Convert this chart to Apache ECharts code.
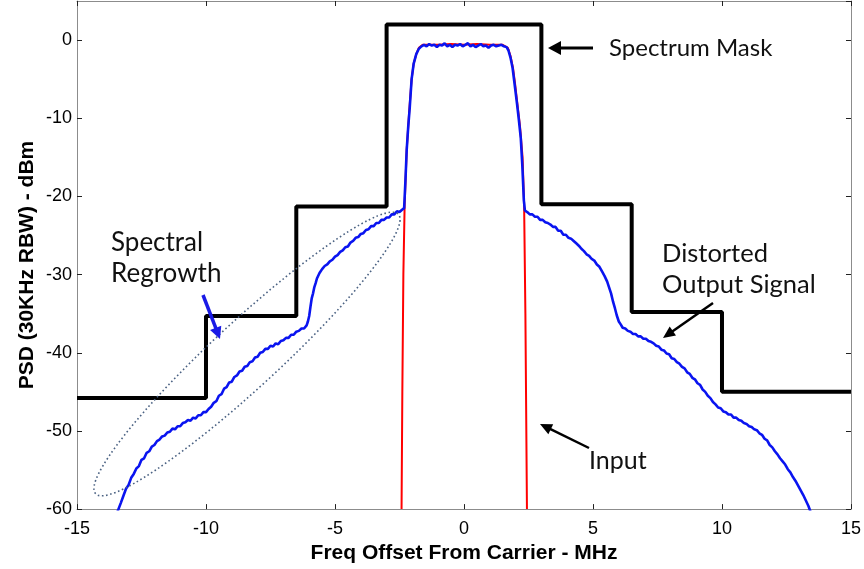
<!DOCTYPE html>
<html>
<head>
<meta charset="utf-8">
<script src="https://cdn.jsdelivr.net/npm/echarts@6/dist/echarts.min.js"></script>
<style>
  html, body { margin: 0; padding: 0; background: #fff; }
  #chart { width: 864px; height: 569px; }
</style>
</head>
<body>
<div id="chart"></div>
<script>
// Axis ranges and ticks (MHz offset, dBm)
const xTicks = [-15, -10, -5, 0, 5, 10, 15];
const yTicks = [-60, -50, -40, -30, -20, -10, 0];

// Spectrum mask limit (stepped)
const maskPoints = [
  [-15, -45.8], [-10, -45.8], [-10, -35.3], [-6.5, -35.3], [-6.5, -21.3],
  [-3, -21.3], [-3, 2], [3, 2], [3, -21], [6.5, -21], [6.5, -34.8],
  [10, -34.8], [10, -45], [15, -45]
];

// Undistorted input PSD
const inputPoints = [
  [-2.42, -60], [-2.39, -45], [-2.35, -30], [-2.3, -21], [-2.22, -14],
  [-2.12, -9], [-2.03, -5], [-1.95, -3], [-1.85, -1.8], [-1.75, -1.0],
  [-1.6, -0.6], [-1.0, -0.6], [-0.5, -0.5], [0, -0.6], [0.5, -0.5],
  [1.0, -0.6], [1.5, -0.6], [1.7, -1.0], [1.8, -2.0], [1.9, -3.6],
  [1.98, -5.6], [2.07, -8.2], [2.17, -11], [2.27, -15], [2.33, -21],
  [2.38, -35], [2.44, -60]
];

// Distorted amplifier output PSD
const outputPoints = [
  [-13.45, -60.5], [-13.3, -59.2], [-13.2, -58.3], [-13.1, -57.4], [-13.0, -56.9],
  [-12.9, -56.0], [-12.8, -55.5], [-12.7, -54.8], [-12.6, -54.5], [-12.5, -53.7],
  [-12.4, -53.5], [-12.3, -52.8], [-12.2, -52.6], [-12.1, -52.0], [-12.0, -51.8],
  [-11.9, -51.3], [-11.8, -51.1], [-11.7, -50.7], [-11.6, -50.6], [-11.5, -50.2],
  [-11.4, -50.1], [-11.3, -49.7], [-11.2, -49.8], [-11.1, -49.4], [-11.0, -49.4],
  [-10.9, -49.0], [-10.8, -48.9], [-10.7, -48.6], [-10.6, -48.7], [-10.5, -48.3],
  [-10.4, -48.4], [-10.3, -48.0], [-10.2, -48.0], [-10.1, -47.6], [-10.0, -47.6],
  [-9.9, -47.2], [-9.8, -46.9], [-9.7, -46.4], [-9.6, -46.2], [-9.5, -45.5],
  [-9.4, -45.3], [-9.3, -44.6], [-9.2, -44.4], [-9.1, -43.8], [-9.0, -43.7],
  [-8.9, -43.1], [-8.8, -42.9], [-8.7, -42.4], [-8.6, -42.3], [-8.5, -41.8],
  [-8.4, -41.7], [-8.3, -41.2], [-8.2, -41.1], [-8.1, -40.6], [-8.0, -40.5],
  [-7.9, -40.0], [-7.8, -39.9], [-7.7, -39.5], [-7.6, -39.5], [-7.5, -39.1],
  [-7.4, -39.2], [-7.3, -38.8], [-7.2, -38.9], [-7.1, -38.5], [-7.0, -38.4],
  [-6.9, -38.1], [-6.8, -38.1], [-6.7, -37.7], [-6.6, -37.7], [-6.5, -37.3],
  [-6.4, -37.2], [-6.3, -36.9], [-6.2, -36.9], [-6.1, -36.5], [-6.05, -36.0],
  [-6.0, -35.3], [-5.95, -34.1], [-5.9, -33.0], [-5.85, -32.4], [-5.8, -31.6],
  [-5.75, -31.1], [-5.7, -30.5], [-5.6, -29.8], [-5.5, -29.3], [-5.4, -28.9],
  [-5.3, -28.7], [-5.2, -28.3], [-5.1, -28.1], [-5.0, -27.7], [-4.9, -27.5],
  [-4.8, -27.1], [-4.7, -26.9], [-4.6, -26.5], [-4.5, -26.4], [-4.4, -25.9],
  [-4.3, -25.7], [-4.2, -25.3], [-4.1, -25.2], [-4.0, -24.8], [-3.9, -24.7],
  [-3.8, -24.3], [-3.7, -24.2], [-3.6, -23.8], [-3.5, -23.8], [-3.4, -23.4],
  [-3.3, -23.4], [-3.2, -23.0], [-3.1, -23.0], [-3.0, -22.7], [-2.9, -22.7],
  [-2.8, -22.3], [-2.7, -22.3], [-2.6, -21.9], [-2.5, -22.0], [-2.4, -21.7],
  [-2.32, -21.5], [-2.27, -18.0], [-2.22, -14.0], [-2.16, -11.0], [-2.1, -8.5],
  [-2.03, -5.0], [-1.95, -3.0], [-1.85, -1.8], [-1.75, -1.1], [-1.65, -0.8],
  [-1.55, -0.6], [-1.45, -0.8], [-1.35, -0.5], [-1.25, -0.7], [-1.15, -0.6],
  [-1.05, -0.9], [-0.95, -0.6], [-0.85, -0.7], [-0.75, -0.4], [-0.65, -0.8],
  [-0.55, -0.6], [-0.45, -0.9], [-0.35, -0.6], [-0.25, -0.7], [-0.15, -0.5],
  [-0.05, -0.8], [0.05, -0.6], [0.15, -0.4], [0.25, -0.8], [0.35, -0.6],
  [0.45, -0.9], [0.55, -0.7], [0.65, -0.5], [0.75, -0.8], [0.85, -0.7],
  [0.95, -1.0], [1.05, -0.7], [1.15, -0.6], [1.25, -0.8], [1.35, -0.7],
  [1.45, -0.6], [1.55, -0.8], [1.65, -0.9], [1.72, -1.3], [1.8, -2.2],
  [1.88, -3.5], [1.96, -5.6], [2.05, -8.0], [2.12, -10.0], [2.2, -12.5],
  [2.26, -16.0], [2.32, -20.5], [2.36, -21.8], [2.45, -22.0], [2.55, -22.3],
  [2.65, -22.3], [2.75, -22.6], [2.85, -22.6], [2.95, -23.0], [3.05, -23.0],
  [3.15, -23.3], [3.25, -23.4], [3.35, -23.6], [3.45, -23.9], [3.55, -23.9],
  [3.65, -24.4], [3.75, -24.4], [3.85, -24.9], [3.95, -24.9], [4.05, -25.3],
  [4.15, -25.4], [4.25, -25.7], [4.35, -26.0], [4.45, -26.3], [4.55, -26.7],
  [4.65, -27.0], [4.75, -27.4], [4.85, -27.6], [4.95, -28.0], [5.05, -28.2],
  [5.15, -28.7], [5.25, -29.0], [5.35, -29.6], [5.45, -30.2], [5.55, -30.9],
  [5.62, -31.6], [5.7, -32.4], [5.78, -33.5], [5.85, -34.3], [5.92, -35.2],
  [6.0, -36.0], [6.08, -36.4], [6.15, -36.8], [6.25, -36.9], [6.35, -37.2],
  [6.45, -37.3], [6.55, -37.6], [6.65, -37.6], [6.75, -37.9], [6.85, -37.9],
  [6.95, -38.2], [7.05, -38.2], [7.15, -38.5], [7.25, -38.6], [7.35, -38.8],
  [7.45, -39.1], [7.55, -39.2], [7.65, -39.6], [7.75, -39.7], [7.85, -40.1],
  [7.95, -40.2], [8.05, -40.7], [8.15, -40.8], [8.25, -41.2], [8.35, -41.4],
  [8.45, -41.8], [8.55, -42.0], [8.65, -42.5], [8.75, -42.7], [8.85, -43.2],
  [8.95, -43.4], [9.05, -43.9], [9.15, -44.1], [9.25, -44.7], [9.35, -45.0],
  [9.45, -45.5], [9.55, -45.8], [9.65, -46.3], [9.75, -46.6], [9.85, -47.0],
  [9.95, -47.1], [10.05, -47.5], [10.15, -47.6], [10.25, -47.9], [10.35, -47.9],
  [10.45, -48.3], [10.55, -48.3], [10.65, -48.6], [10.75, -48.7], [10.85, -49.0],
  [10.95, -49.1], [11.05, -49.4], [11.15, -49.5], [11.25, -49.8], [11.35, -49.9],
  [11.45, -50.3], [11.55, -50.5], [11.65, -51.0], [11.75, -51.2], [11.85, -51.8],
  [11.95, -52.1], [12.05, -52.6], [12.15, -53.0], [12.25, -53.5], [12.35, -53.9],
  [12.45, -54.3], [12.55, -54.9], [12.65, -55.3], [12.75, -55.9], [12.85, -56.4],
  [12.95, -57.0], [13.05, -57.6], [13.15, -58.2], [13.25, -58.9], [13.35, -59.6],
  [13.45, -60.5]
];

const chart = echarts.init(document.getElementById('chart'), null, { renderer: 'canvas' });

const axisColor = '#8c8c8c';
const tickFont = { fontFamily: 'Liberation Sans, Arial, sans-serif', fontSize: 18, color: '#000' };
const noteFont = 'Lato, "Open Sans", sans-serif';

function baseAxis(extra) {
  return Object.assign({
    type: 'value',
    axisLine: { show: true, onZero: false, lineStyle: { color: axisColor, width: 1 } },
    axisTick: { show: true, inside: true, length: 5, lineStyle: { color: '#222', width: 1 } },
    splitLine: { show: false }
  }, extra);
}

// Filled-head arrow from (x1,y1) to tip (x2,y2)
function arrow(x1, y1, x2, y2, color, width, headLen, headHalf) {
  const dx = x2 - x1, dy = y2 - y1;
  const len = Math.sqrt(dx * dx + dy * dy);
  const ux = dx / len, uy = dy / len;
  const bx = x2 - ux * headLen, by = y2 - uy * headLen;
  const nx = -uy, ny = ux;
  return [
    { type: 'line', shape: { x1: x1, y1: y1, x2: bx + ux * 2, y2: by + uy * 2 },
      style: { stroke: color, lineWidth: width }, z: 100 },
    { type: 'polygon', shape: { points: [[x2, y2], [bx + nx * headHalf, by + ny * headHalf], [bx - nx * headHalf, by - ny * headHalf]] },
      style: { fill: color }, z: 100 }
  ];
}

function note(text, x, y, size) {
  return { type: 'text', x: x, y: y, z: 100,
    style: { text: text, font: size + 'px ' + noteFont, fill: '#111', textAlign: 'left', textVerticalAlign: 'middle' } };
}

const graphics = [].concat(
  // Dotted ellipse around the regrowth region
  [{ type: 'ellipse', x: 247, y: 354, rotation: 42.7 * Math.PI / 180, z: 90,
     shape: { cx: 0, cy: 0, rx: 206, ry: 33 },
     style: { fill: 'none', stroke: '#4b6283', lineWidth: 1.6, lineDash: [1.6, 2.6] } }],
  arrow(593, 48, 548, 48, '#000', 3, 13, 7),
  arrow(203, 295, 220, 339, '#1a1ae6', 3.5, 12, 6),
  arrow(713, 303, 663, 338, '#000', 2.5, 12, 5.5),
  arrow(589, 448, 540, 424, '#000', 2.5, 12, 5.5),
  [
    note('Spectrum Mask', 609, 48, 24),
    note('Spectral', 111, 243, 26),
    note('Regrowth', 111, 274, 26),
    note('Distorted', 662, 254, 25.5),
    note('Output Signal', 662, 285, 25.5),
    note('Input', 589, 461, 25),
    { type: 'text', x: 27, y: 265, rotation: Math.PI / 2, z: 100,
      style: { text: 'PSD (30KHz RBW) - dBm', font: 'bold 21px Liberation Sans, Arial, sans-serif',
               fill: '#000', textAlign: 'center', textVerticalAlign: 'middle' } }
  ]
);

chart.setOption({
  animation: false,
  backgroundColor: '#fff',
  grid: { left: 77, right: 9, top: 1, bottom: 56, containLabel: false },
  xAxis: [
    baseAxis({ min: xTicks[0], max: xTicks[xTicks.length - 1], interval: 5, position: 'bottom',
      name: 'Freq Offset From Carrier - MHz', nameLocation: 'middle', nameGap: 28,
      nameTextStyle: { fontFamily: 'Liberation Sans, Arial, sans-serif', fontSize: 21, fontWeight: 'bold', color: '#000' },
      axisLabel: Object.assign({ margin: 11 }, tickFont) }),
    baseAxis({ min: xTicks[0], max: xTicks[xTicks.length - 1], interval: 5, position: 'top',
      axisLabel: { show: false } })
  ],
  yAxis: [
    baseAxis({ min: yTicks[0], max: 5, interval: 10, position: 'left',
      axisLabel: Object.assign({ margin: 5, showMaxLabel: false }, tickFont) }),
    baseAxis({ min: yTicks[0], max: 5, interval: 10, position: 'right',
      axisLabel: { show: false } })
  ],
  series: [
    { name: 'Spectrum Mask', type: 'line', data: maskPoints, showSymbol: false, z: 3,
      lineStyle: { color: '#000', width: 4 }, clip: true },
    { name: 'Input', type: 'line', data: inputPoints, showSymbol: false, z: 4,
      lineStyle: { color: '#ff0000', width: 2 }, clip: true },
    { name: 'Distorted Output Signal', type: 'line', data: outputPoints, showSymbol: false, z: 5,
      lineStyle: { color: '#0a14f0', width: 2.6 }, clip: true }
  ],
  graphic: graphics
});
</script>
</body>
</html>
